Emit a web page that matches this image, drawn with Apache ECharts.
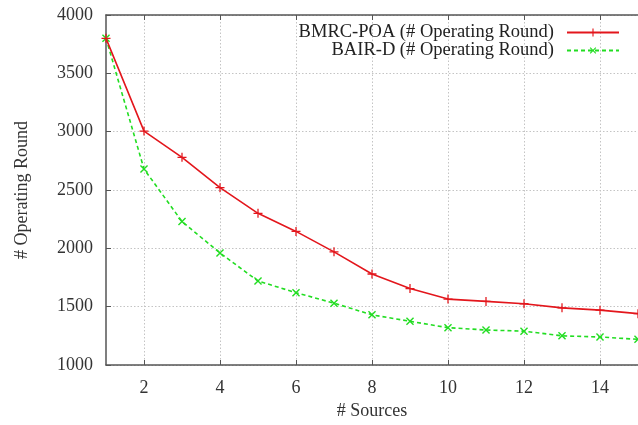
<!DOCTYPE html>
<html>
<head>
<meta charset="utf-8">
<script src="https://cdn.jsdelivr.net/npm/echarts@6/dist/echarts.min.js"></script>
<style>
  html, body { margin: 0; padding: 0; background: #fff; }
  #chart { width: 638px; height: 425px; }
</style>
</head>
<body>
<div id="chart"></div>
<script>
const sources = [1, 2, 3, 4, 5, 6, 7, 8, 9, 10, 11, 12, 13, 14, 15]
const bmrcPoa = [3800, 3005, 2780, 2520, 2300, 2145, 1970, 1780, 1655, 1565, 1545, 1525, 1490, 1470, 1440]
const bairD = [3800, 2680, 2230, 1960, 1720, 1620, 1530, 1430, 1375, 1320, 1300, 1290, 1250, 1240, 1220]
const xTicks = [2, 4, 6, 8, 10, 12, 14]

const font = '"Liberation Serif", "DejaVu Serif", serif'
const plusPath = 'path://M4.3,0H5.7V4.3H10V5.7H5.7V10H4.3V5.7H0V4.3H4.3Z'

const chart = echarts.init(document.getElementById('chart'))

function pairs(ys) {
  return sources.map((x, i) => [x, ys[i]])
}

chart.setOption({
  animation: false,
  grid: { left: 106, right: -4.5, top: 15, bottom: 56 },
  legend: {
    orient: 'vertical',
    right: 13,
    top: 18,
    align: 'right',
    itemWidth: 52,
    itemHeight: 10,
    itemGap: -1,
    textStyle: { fontFamily: font, fontSize: 18.5, color: '#222', padding: [0, 8, 0, 0] },
    data: ['BMRC-POA (# Operating Round)', 'BAIR-D (# Operating Round)']
  },
  xAxis: [{
    type: 'value',
    min: 1,
    max: 15,
    name: '# Sources',
    nameLocation: 'middle',
    nameGap: 37,
    nameTextStyle: { fontFamily: font, fontSize: 18, color: '#333' },
    axisLine: { onZero: false, lineStyle: { color: '#555', width: 1.5 } },
    axisTick: { inside: true, length: 5, customValues: xTicks, lineStyle: { color: '#555' } },
    axisLabel: { customValues: xTicks, fontFamily: font, fontSize: 18, color: '#333', margin: 14 },
    splitLine: { show: true, lineStyle: { color: '#c4c4c4', type: [1.5, 2] } }
  }, {
    type: 'value',
    position: 'top',
    min: 1,
    max: 15,
    axisLine: { onZero: false, lineStyle: { color: '#555', width: 1.5 } },
    axisTick: { inside: true, length: 5, customValues: xTicks, lineStyle: { color: '#555' } },
    axisLabel: { show: false },
    splitLine: { show: false }
  }],
  yAxis: {
    type: 'value',
    min: 1000,
    max: 4000,
    interval: 500,
    name: '# Operating Round',
    nameLocation: 'middle',
    nameGap: 75,
    nameTextStyle: { fontFamily: font, fontSize: 18, color: '#333' },
    axisLine: { show: true, lineStyle: { color: '#555', width: 1.5 } },
    axisTick: { show: true, inside: true, length: 5, lineStyle: { color: '#555' } },
    axisLabel: { fontFamily: font, fontSize: 18, color: '#333', margin: 13, formatter: v => String(v) },
    splitLine: { show: true, lineStyle: { color: '#c4c4c4', type: [1.5, 2] } }
  },
  series: [{
    name: 'BMRC-POA (# Operating Round)',
    type: 'line',
    data: pairs(bmrcPoa),
    symbol: plusPath,
    symbolSize: 9,
    color: '#e3161c',
    lineStyle: { width: 1.6, color: '#e3161c' },
    itemStyle: { color: '#e3161c' },
    z: 3
  }, {
    name: 'BAIR-D (# Operating Round)',
    type: 'line',
    data: pairs(bairD),
    symbol: plusPath,
    symbolRotate: 45,
    symbolSize: 10,
    color: '#22dd22',
    lineStyle: { width: 1.6, type: [4, 3], color: '#22dd22' },
    itemStyle: { color: '#22dd22' },
    z: 2
  }]
})
</script>
</body>
</html>
